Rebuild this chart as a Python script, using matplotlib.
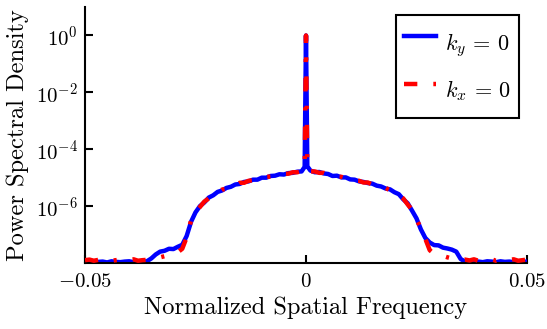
import numpy as np
import matplotlib
matplotlib.use("Agg")
import matplotlib.pyplot as plt
from matplotlib.ticker import FixedLocator, NullLocator, LogFormatterMathtext

plt.rcParams['font.family'] = 'serif'
plt.rcParams['font.serif'] = ['cmr10']
plt.rcParams['mathtext.fontset'] = 'cm'
plt.rcParams['axes.formatter.use_mathtext'] = True
plt.rcParams['axes.unicode_minus'] = False

# Normalized spatial frequency samples (-0.05 .. 0.05, step 0.001, plus
# two samples right next to the DC peak)
freq = np.concatenate([np.round(np.arange(-50, 0) * 0.001, 3),
                       [-0.0003, 0.0, 0.0003],
                       np.round(np.arange(1, 51) * 0.001, 3)])

# log10 of power spectral density, k_y = 0 cut (blue)
log_psd_ky = [
    -7.95, -7.97, -7.94, -7.96, -7.95, -7.98, -7.94, -7.96, -7.97, -7.95,
    -7.94, -7.97, -7.96, -7.95, -7.94, -7.84, -7.70, -7.60, -7.57, -7.50,
    -7.51, -7.43, -7.36, -7.05, -6.55, -6.22, -6.00, -5.87, -5.70, -5.62,
    -5.50, -5.45, -5.36, -5.32, -5.24, -5.22, -5.15, -5.13, -5.07, -5.07,
    -5.00, -5.00, -4.94, -4.93, -4.88, -4.89, -4.84, -4.83, -4.79, -4.78,
    -4.62, 0.00, -4.60,
    -4.75, -4.81, -4.80, -4.85, -4.87, -4.94, -4.93, -4.99, -4.99, -5.06,
    -5.07, -5.13, -5.15, -5.19, -5.21, -5.28, -5.31, -5.38, -5.41, -5.51,
    -5.58, -5.76, -5.90, -6.16, -6.43, -6.82, -7.12, -7.28, -7.37, -7.38,
    -7.46, -7.49, -7.53, -7.60, -7.86, -7.95, -7.94, -7.96, -7.95, -7.97,
    -7.94, -7.95, -7.97, -7.94, -7.96, -7.95, -7.97, -7.94, -7.96, -7.95,
]

# log10 of power spectral density, k_x = 0 cut (red)
log_psd_kx = [
    -7.90, -7.88, -7.92, -7.89, -7.91, -7.87, -7.92, -7.90, -7.88, -7.91,
    -7.89, -7.87, -7.92, -7.90, -7.89, -7.88, -7.84, -7.80, -7.76, -7.72,
    -7.68, -7.62, -7.50, -7.10, -6.50, -6.20, -6.03, -5.84, -5.73, -5.58,
    -5.53, -5.42, -5.39, -5.29, -5.27, -5.18, -5.18, -5.11, -5.09, -5.04,
    -5.03, -4.97, -4.96, -4.91, -4.91, -4.86, -4.86, -4.81, -4.81, -4.77,
    -4.65, 0.00, -4.66,
    -4.78, -4.78, -4.83, -4.83, -4.89, -4.91, -4.96, -4.97, -5.02, -5.04,
    -5.10, -5.11, -5.17, -5.17, -5.24, -5.25, -5.33, -5.36, -5.44, -5.48,
    -5.62, -5.73, -5.94, -6.13, -6.47, -6.78, -7.15, -7.55, -7.68, -7.72,
    -7.75, -7.80, -7.84, -7.86, -7.90, -7.88, -7.91, -7.87, -7.92, -7.89,
    -7.90, -7.87, -7.92, -7.88, -7.91, -7.89, -7.87, -7.92, -7.90, -7.88,
]

labels = [r'$k_y\,=\,0$', r'$k_x\,=\,0$']
x_ticks = [-0.05, 0, 0.05]
x_tick_labels = [r'$-0.05$', r'$0$', r'$0.05$']
y_ticks = [1e0, 1e-2, 1e-4, 1e-6]

TICK_FS = 15
LABEL_FS = 17.6
LEG_FS = 16

fig = plt.figure(figsize=(5.47, 3.29), dpi=100)
ax = fig.add_axes([0.1554, 0.2006, 0.808, 0.778])

ax.plot(freq, 10 ** np.array(log_psd_ky), color='#0000ff', lw=3.2,
        label=labels[0], zorder=2)
ax.plot(freq, 10 ** np.array(log_psd_kx), color='#ff0000', lw=3.2,
        linestyle=(0, (3.0, 3.6, 0.7, 3.6)), label=labels[1], zorder=3)

ax.set_yscale('log')
ax.set_xlim(-0.05, 0.05)
ax.set_ylim(1e-8, 10)
ax.xaxis.set_major_locator(FixedLocator(x_ticks))
ax.set_xticklabels(x_tick_labels)
ax.yaxis.set_major_locator(FixedLocator(y_ticks))
ax.yaxis.set_major_formatter(LogFormatterMathtext())
ax.yaxis.set_minor_locator(NullLocator())
ax.xaxis.set_minor_locator(NullLocator())

for s in ['top', 'right']:
    ax.spines[s].set_visible(False)
for s in ['left', 'bottom']:
    ax.spines[s].set_linewidth(1.5)

ax.tick_params(axis='both', which='major', direction='in', length=6,
               width=1.5, labelsize=TICK_FS)
ax.tick_params(axis='x', pad=7)
ax.tick_params(axis='y', pad=5)

ax.set_xlabel('Normalized Spatial Frequency', fontsize=LABEL_FS, labelpad=4)
ax.set_ylabel('Power Spectral Density', fontsize=LABEL_FS, labelpad=5)

leg = ax.legend(loc='upper right', bbox_to_anchor=(0.982, 0.969),
                borderaxespad=0, fontsize=LEG_FS, frameon=True, fancybox=False,
                edgecolor='black', framealpha=1, handlelength=1.44,
                handletextpad=0.4, borderpad=0.36, handleheight=2.42,
                labelspacing=0.3)
leg.get_frame().set_linewidth(1.5)

fig.savefig('out.png', dpi=100)
